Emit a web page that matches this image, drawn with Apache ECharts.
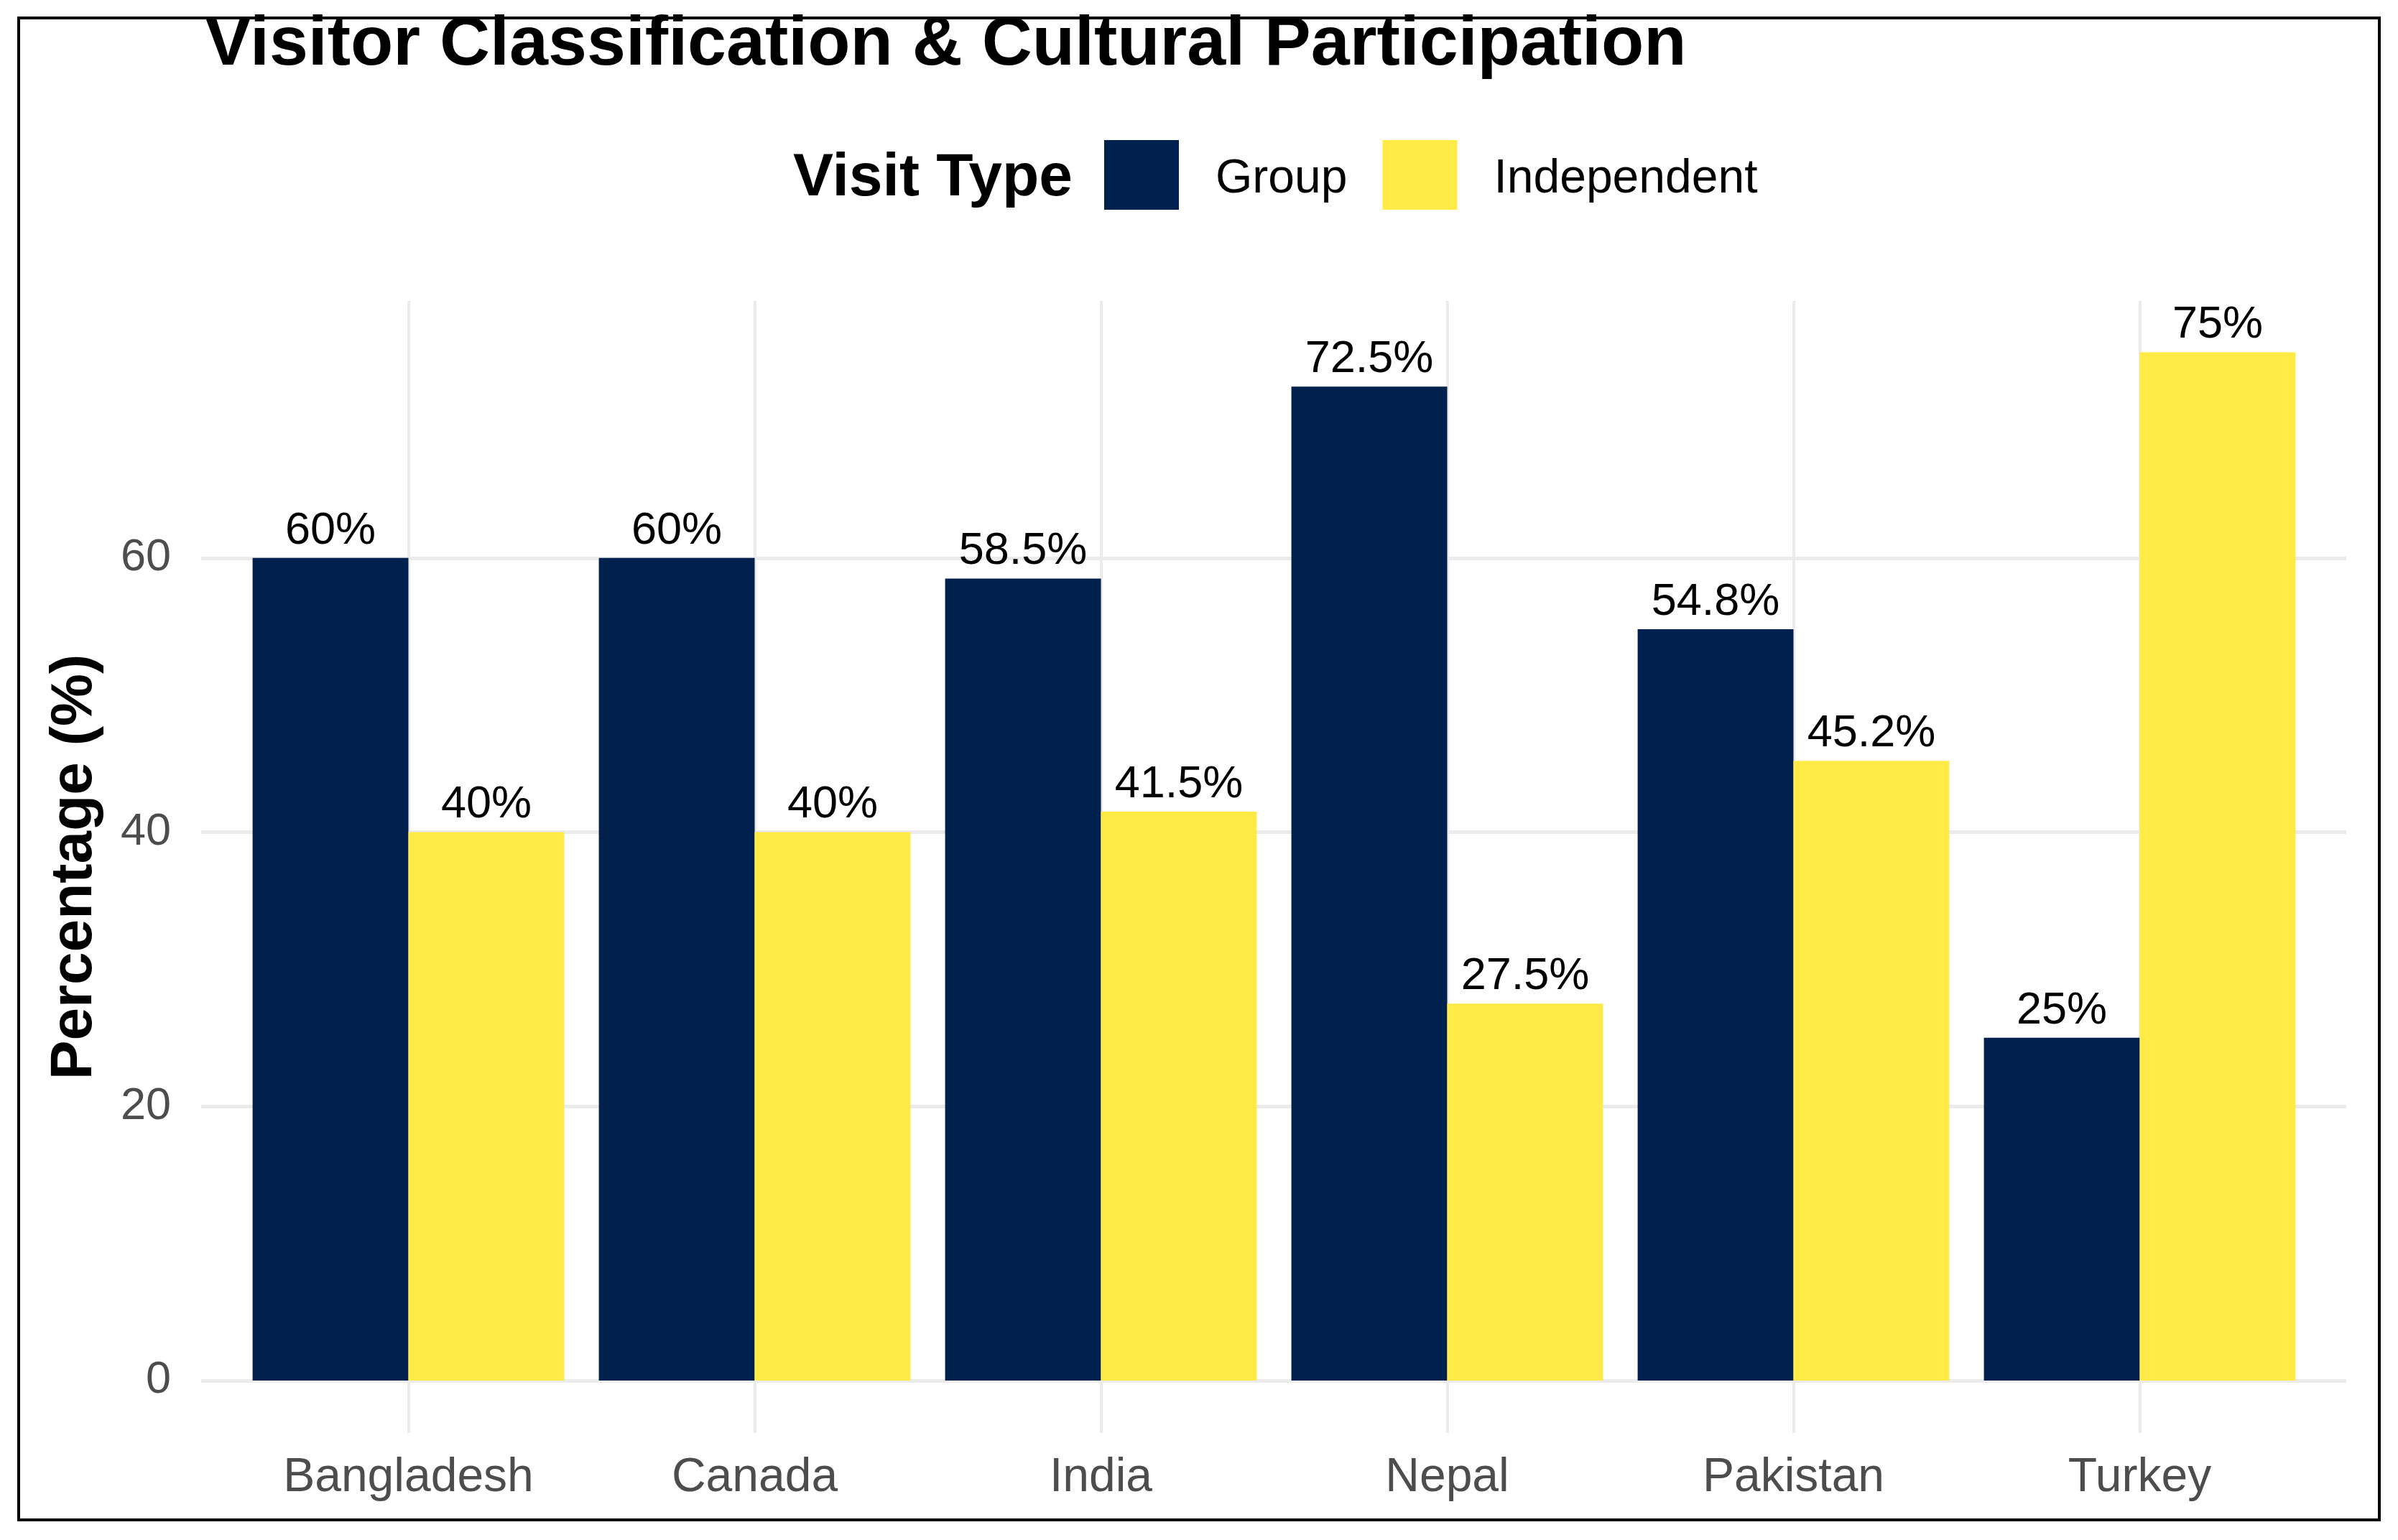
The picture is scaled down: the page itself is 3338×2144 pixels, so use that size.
<!DOCTYPE html>
<html>
<head>
<meta charset="utf-8">
<script src="https://cdn.jsdelivr.net/npm/echarts@6/dist/echarts.min.js"></script>
<style>
html,body{margin:0;padding:0;background:#fff;}
#chart{width:3338px;height:2144px;}
</style>
</head>
<body>
<div id="chart"></div>
<script>
const categories = ['Bangladesh', 'Canada', 'India', 'Nepal', 'Pakistan', 'Turkey'];
const groupValues = [60, 60, 58.5, 72.5, 54.8, 25];
const independentValues = [40, 40, 41.5, 27.5, 45.2, 75];
const seriesNames = ['Group', 'Independent'];
const yTicks = [0, 20, 40, 60];

const FONT = '"Liberation Sans", Arial, sans-serif';
const GRID_TOP = 419;
const GRID_BOTTOM_Y = 1922;
const GRID_H = GRID_BOTTOM_Y - GRID_TOP;
const Y_MAX = 78.75;

const chart = echarts.init(document.getElementById('chart'), null, {renderer: 'canvas'});

const labelCfg = {
  show: true,
  position: 'top',
  distance: 6,
  fontFamily: FONT,
  fontSize: 63,
  color: '#000',
  formatter: p => p.value + '%'
};

const option = {
  backgroundColor: '#ffffff',
  animation: false,
  title: [
    {
      text: 'Visitor Classification & Cultural Participation',
      left: 280, top: 10,
      textStyle: {fontFamily: FONT, fontSize: 97, fontWeight: 'bold', color: '#000'}
    },
    {
      text: 'Visit Type',
      left: 1099, top: 202,
      textStyle: {fontFamily: FONT, fontSize: 84, fontWeight: 'bold', color: '#000'}
    }
  ],
  legend: {
    data: seriesNames,
    left: 1537, top: 195,
    orient: 'horizontal',
    padding: 0,
    icon: 'rect',
    itemWidth: 104,
    itemHeight: 97,
    itemGap: 49,
    formatter: '{t|{name}}',
    textStyle: {
      fontFamily: FONT, fontSize: 66, color: '#000',
      rich: {t: {fontFamily: FONT, fontSize: 66, color: '#000', padding: [12, 0, 0, 46]}}
    }
  },
  grid: [
    {left: 280, top: GRID_TOP, width: 2986, height: GRID_H, containLabel: false},
    {left: 327.5, top: GRID_TOP, width: 2892, height: GRID_H, containLabel: false}
  ],
  xAxis: [
    {
      gridIndex: 1, type: 'category', data: categories,
      axisLine: {show: false},
      axisTick: {show: true, alignWithLabel: true, inside: false, length: 73,
                 lineStyle: {color: '#ebebeb', width: 4}},
      axisLabel: {fontFamily: FONT, fontSize: 66, color: '#4d4d4d', margin: 103},
      splitLine: {show: false}
    },
    {
      gridIndex: 1, type: 'category', data: categories, position: 'bottom',
      axisLine: {show: false},
      axisTick: {show: true, alignWithLabel: true, inside: true, length: GRID_H,
                 lineStyle: {color: '#ebebeb', width: 4}},
      axisLabel: {show: false},
      splitLine: {show: false}
    },
    {gridIndex: 0, type: 'value', show: false, min: 0, max: 1}
  ],
  yAxis: [
    {
      gridIndex: 0, type: 'value', min: 0, max: Y_MAX, interval: 20,
      axisLine: {show: false}, axisTick: {show: false},
      axisLabel: {fontFamily: FONT, fontSize: 63, color: '#4d4d4d', margin: 42,
                  formatter: v => (yTicks.indexOf(v) >= 0 ? String(v) : '')},
      splitLine: {show: true, lineStyle: {width: 5,
                  color: ['#ebebeb', '#ebebeb', '#ebebeb', '#ebebeb', 'rgba(0,0,0,0)']}}
    },
    {gridIndex: 1, type: 'value', min: 0, max: Y_MAX, show: false}
  ],
  series: [
    {
      name: seriesNames[0], type: 'bar', xAxisIndex: 0, yAxisIndex: 1,
      data: groupValues, barGap: '0%', barCategoryGap: '10%',
      itemStyle: {color: '#00204D'}, label: labelCfg, z: 3
    },
    {
      name: seriesNames[1], type: 'bar', xAxisIndex: 0, yAxisIndex: 1,
      data: independentValues, barGap: '0%', barCategoryGap: '10%',
      itemStyle: {color: '#FFEA46'}, label: labelCfg, z: 3
    }
  ],
  graphic: [
    {
      type: 'text', silent: true,
      x: 104, y: 1207, rotation: Math.PI / 2,
      style: {
        text: 'Percentage (%)',
        fontFamily: FONT, fontSize: 82, fontWeight: 'bold', fill: '#000',
        align: 'center', verticalAlign: 'middle'
      }
    },
    {
      type: 'rect', z: 100, silent: true,
      shape: {x: 26, y: 25, width: 3286, height: 2091},
      style: {fill: 'none', stroke: '#000', lineWidth: 4}
    }
  ]
};

chart.setOption(option);
</script>
</body>
</html>
